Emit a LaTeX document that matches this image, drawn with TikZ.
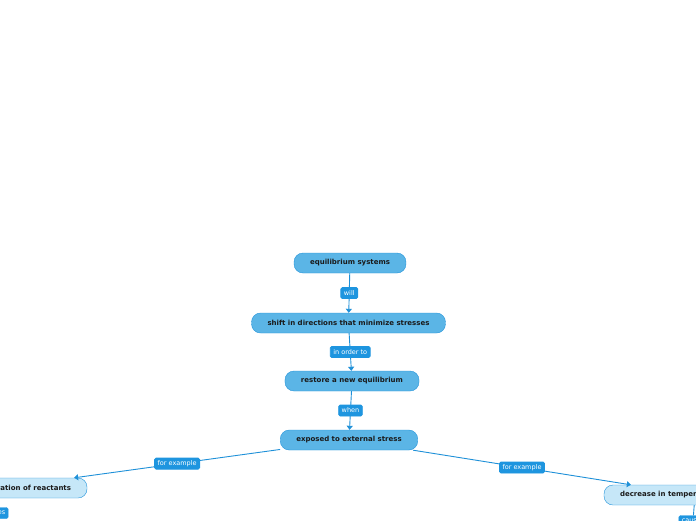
\documentclass[tikz,border=0pt]{standalone}
\usepackage{fontspec}
\setmainfont{DejaVu Sans}
\usetikzlibrary{arrows.meta}
\definecolor{topicfill}{HTML}{5BB5E6}
\definecolor{topicline}{HTML}{2293DA}
\definecolor{subfill}{HTML}{C6E7F8}
\definecolor{labelfill}{HTML}{1E95DF}
\definecolor{linkcol}{HTML}{1E90D8}
\definecolor{inktext}{HTML}{1A1A1A}

\begin{document}
\begin{tikzpicture}[
  x=1pt, y=-1pt,
  topic/.style={draw=topicline, fill=topicfill, rounded corners=9pt, minimum height=20pt, inner xsep=16pt, inner ysep=0pt, font=\fontsize{7}{8}\selectfont\bfseries, text=inktext},
  subtopic/.style={topic, fill=subfill},
  linklabel/.style={fill=labelfill, draw=labelfill, rounded corners=1.5pt, text=white, font=\fontsize{6.5}{7}\selectfont, inner xsep=3pt, inner ysep=0pt, minimum height=11pt},
  link/.style={draw=linkcol, line width=0.9pt, -{Triangle[width=6pt,length=4pt]}},
  tail/.style={draw=linkcol, line width=0.9pt}
]
\useasboundingbox (0,0) rectangle (696,520);
\clip (0,0) rectangle (696,520);

% main chain
\node[topic] (equil) at (350,263) {equilibrium systems};
\node[topic] (shift) at (348.5,323) {shift in directions that minimize stresses};
\node[topic] (restore) at (352,381) {restore a new equilibrium};
\node[topic] (stress) at (349,440) {exposed to external stress};

% examples
\node[subtopic] (reactants) at (0,488) {\makebox[142pt][r]{increase in concentration of reactants}};
\node[subtopic] (temperature) at (695,495) {\makebox[150pt][l]{decrease in temperature}};

\draw[link] (equil) -- node[linklabel] {will} (shift);
\draw[link] (shift) -- node[linklabel] {in order to} (restore);
\draw[link] (restore) -- node[linklabel] {when} (stress);
\draw[link] (stress) -- node[linklabel] {for example} (reactants);
\draw[link] (stress) -- node[linklabel] {for example} (temperature);

% next level, cut off by the frame
\node[linklabel] (reactlabel) at (-6,513) {causes};
\node[linklabel] (templabel) at (693,521) {causes};
\draw[tail] (reactants) -- (reactlabel);
\draw[tail] (temperature) -- (templabel);
\end{tikzpicture}
\end{document}
